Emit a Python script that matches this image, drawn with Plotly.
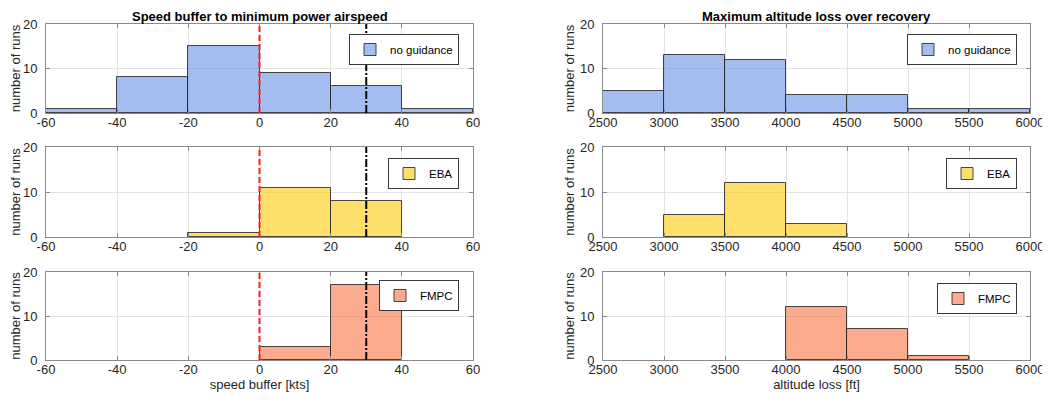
import plotly.graph_objects as go

# ---------------- data ----------------
speed_edges = [-60, -40, -20, 0, 20, 40, 60]
speed_no_guidance = [1, 8, 15, 9, 6, 1]
speed_eba = [0, 0, 1, 11, 8, 0]
speed_fmpc = [0, 0, 0, 3, 17, 0]

alt_edges = [2500, 3000, 3500, 4000, 4500, 5000, 5500, 6000]
alt_no_guidance = [5, 13, 12, 4, 4, 1, 1]
alt_eba = [0, 5, 12, 3, 0, 0, 0]
alt_fmpc = [0, 0, 0, 12, 7, 1, 0]

speed_min_line = [0]      # red dashed threshold
speed_ref_line = [30]     # black dash-dot reference

series_names = ["no guidance", "EBA", "FMPC"]
speed_ticks = [-60, -40, -20, 0, 20, 40, 60]
speed_tick_labels = ["-60", "-40", "-20", "0", "20", "40", "60"]
alt_ticks = [2500, 3000, 3500, 4000, 4500, 5000, 5500, 6000]
alt_tick_labels = ["2500", "3000", "3500", "4000", "4500", "5000", "5500", "6000"]
y_ticks = [0, 10, 20]

# ---------------- style ----------------
# the page body has an 8px margin; figure is sized to end at the window edge
OFF = 8
W, H = 1050 - OFF, 406 - OFF
FONT = "Liberation Sans, Arial, Helvetica, sans-serif"
TXT = "#262626"
AX = "#8a8a8a"
GRID = "#e3e3e3"
fills = ["rgba(102,145,230,0.6)", "rgba(253,202,8,0.6)", "rgba(252,115,68,0.6)"]
edge = "rgba(40,40,40,0.85)"


def fx(px):
    return (px - OFF) / W


def fy(py):
    return 1 - (py - OFF) / H


col_dom = [[fx(46), fx(473)], [fx(603), fx(1030)]]
row_dom = [[fy(113), fy(24)], [fy(237), fy(147)], [fy(360), fy(272)]]
legend_pos = [
    (459, 34), (1017, 34),
    (459, 158), (1017, 158),
    (459, 280), (1017, 283),
]

fig = go.Figure()

speed_sets = [speed_no_guidance, speed_eba, speed_fmpc]
alt_sets = [alt_no_guidance, alt_eba, alt_fmpc]

layout = dict(
    width=W, height=H, margin=dict(l=0, r=0, t=0, b=0, autoexpand=False),
    paper_bgcolor="white", plot_bgcolor="white",
    font=dict(family=FONT, size=13, color=TXT),
    bargap=0, showlegend=True,
)

idx = 0
for r in range(3):
    for c in range(2):
        idx += 1
        edges = speed_edges if c == 0 else alt_edges
        vals = speed_sets[r] if c == 0 else alt_sets[r]
        centers = [(edges[i] + edges[i + 1]) / 2 for i in range(len(vals))]
        widths = [edges[i + 1] - edges[i] for i in range(len(vals))]
        yv = [v if v > 0 else None for v in vals]
        sfx = "" if idx == 1 else str(idx)
        lg = "legend" if idx == 1 else f"legend{idx}"
        fig.add_trace(go.Bar(
            x=centers, y=yv, width=widths, name=series_names[r],
            marker=dict(color=fills[r], line=dict(color=edge, width=1)),
            xaxis="x" + sfx, yaxis="y" + sfx, legend=lg,
        ))
        lx, ly = legend_pos[idx - 1]
        layout[lg] = dict(
            x=fx(lx), y=fy(ly), xanchor="right", yanchor="top",
            bgcolor="white", bordercolor="#3a3a3a", borderwidth=1,
            font=dict(family=FONT, size=11.5, color="#000000"),
            itemclick=False, itemdoubleclick=False, itemwidth=30,
        )
        ticks = speed_ticks if c == 0 else alt_ticks
        labels = speed_tick_labels if c == 0 else alt_tick_labels
        xa = dict(
            domain=col_dom[c], anchor="y" + sfx, automargin=False,
            range=[edges[0], edges[-1]], tickvals=ticks, ticktext=labels,
            showgrid=True, gridcolor=GRID, gridwidth=1,
            showline=True, linecolor=AX, linewidth=1, mirror="ticks",
            ticks="inside", ticklen=4, tickcolor=AX,
            tickfont=dict(size=13, color=TXT), zeroline=False,
            ticklabelstandoff=-3,
        )
        if r == 2:
            xa["title"] = dict(
                text="speed buffer [kts]" if c == 0 else "altitude loss [ft]",
                font=dict(size=13, color=TXT), standoff=2,
            )
        ya = dict(
            domain=row_dom[r], anchor="x" + sfx, automargin=False,
            range=[0, 20], tickvals=y_ticks,
            showgrid=True, gridcolor=GRID, gridwidth=1,
            showline=True, linecolor=AX, linewidth=1, mirror="ticks",
            ticks="inside", ticklen=4, tickcolor=AX,
            tickfont=dict(size=13, color=TXT), zeroline=False,
            ticklabelstandoff=5,
            title=dict(text="number of runs", font=dict(size=13, color=TXT), standoff=2),
        )
        layout["xaxis" + sfx] = xa
        layout["yaxis" + sfx] = ya

        if c == 0:
            for xv in speed_min_line:
                fig.add_shape(type="line", xref="x" + sfx, yref="y" + sfx,
                              x0=xv, x1=xv, y0=0, y1=20,
                              line=dict(color="#ff1a1a", width=2, dash="6px,3px"))
            for xv in speed_ref_line:
                fig.add_shape(type="line", xref="x" + sfx, yref="y" + sfx,
                              x0=xv, x1=xv, y0=0, y1=20,
                              line=dict(color="#000000", width=2, dash="8px,2px,2px,2px"))

fig.update_layout(**layout)

for ref, text in [("x domain", "Speed buffer to minimum power airspeed"),
                  ("x2 domain", "Maximum altitude loss over recovery")]:
    fig.add_annotation(text=f"<b>{text}</b>",
                       xref=ref, yref="paper", x=0.5, y=1.0,
                       showarrow=False, font=dict(size=13, color="#000000"),
                       xanchor="center", yanchor="top", borderpad=0)

fig.write_html("out.html")
